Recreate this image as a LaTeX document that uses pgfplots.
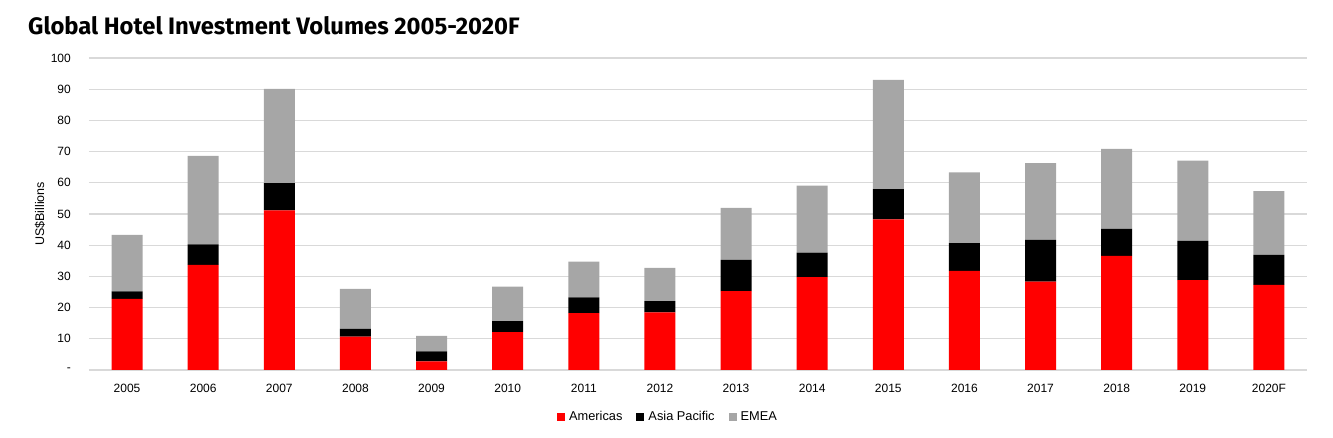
\documentclass[border=0pt]{standalone}
\usepackage{fontspec}
\setmainfont{Liberation Sans}
\newfontfamily\titlefont{Fira Sans}
\usepackage{pgfplots}
\pgfplotsset{compat=1.18}
\usepackage{pgfplotstable}
\definecolor{amer}{HTML}{FF0000}
\definecolor{asia}{HTML}{000000}
\definecolor{emea}{HTML}{A6A6A6}
\definecolor{gridc}{HTML}{D9D9D9}
\pgfplotstableread{
x Americas Asia EMEA
0 22.8 2.4 18.1
1 33.7 6.6 28.3
2 51.2 8.7 30.2
3 10.7 2.5 12.8
4 2.8 3.2 4.9
5 12.1 3.6 11.0
6 18.2 5.1 11.4
7 18.5 3.6 10.6
8 25.3 10.0 16.7
9 29.8 7.8 21.5
10 48.3 9.7 35.0
11 31.8 8.9 22.6
12 28.3 13.4 24.6
13 36.6 8.6 25.7
14 28.8 12.6 25.7
15 27.3 9.6 20.4
}\datatable
\begin{document}
\begin{tikzpicture}
\begin{axis}[
  at={(0,0)}, anchor=south west,
  scale only axis,
  width=1218pt, height=312pt,
  ybar stacked,
  bar width=31pt,
  xmin=-0.5, xmax=15.5,
  ymin=0, ymax=100,
  xtick=data,
  xticklabels={2005,2006,2007,2008,2009,2010,2011,2012,2013,2014,2015,2016,2017,2018,2019,2020F},
  ytick={0,10,...,100},
  yticklabels={-,10,20,30,40,50,60,70,80,90,100},
  major tick length=0pt,
  axis line style={draw=none},
  ymajorgrids,
  grid style={gridc, line width=1.3pt},
  tick label style={font=\fontsize{12}{14}\selectfont},
  xticklabel style={anchor=base, yshift=-23pt},
  yticklabel style={anchor=east, inner sep=0pt, xshift=-18pt},
  ylabel={US\$Billions},
  every axis y label/.style={at={(axis description cs:-0.0402,0.5)}, rotate=90, anchor=center, font=\fontsize{12.5}{14}\selectfont},
  legend style={at={(axis description cs:0.4754,-0.1506)}, anchor=center, draw=none, fill=none,
    font=\fontsize{12.8}{14}\selectfont, legend columns=3,
    /tikz/every even column/.append style={column sep=12pt}},
  legend cell align=left,
  legend image code/.code={\fill[#1] (0pt,-4pt) rectangle (8pt,4pt); \path (10pt,0pt);},
]
\addplot[fill=amer, draw=none] table[x=x, y=Americas] {\datatable};
\addplot[fill=asia, draw=none] table[x=x, y=Asia] {\datatable};
\addplot[fill=emea, draw=none] table[x=x, y=EMEA] {\datatable};
\legend{Americas, Asia Pacific, EMEA}
\end{axis}
\node[anchor=base west, inner sep=0pt, font=\titlefont\bfseries\fontsize{23.8}{27}\selectfont] at (-61pt,335pt) {Global Hotel Investment Volumes 2005-2020F};
\pgfresetboundingbox
\useasboundingbox (-89pt,-68pt) rectangle (1244pt,370pt);
\end{tikzpicture}
\end{document}
